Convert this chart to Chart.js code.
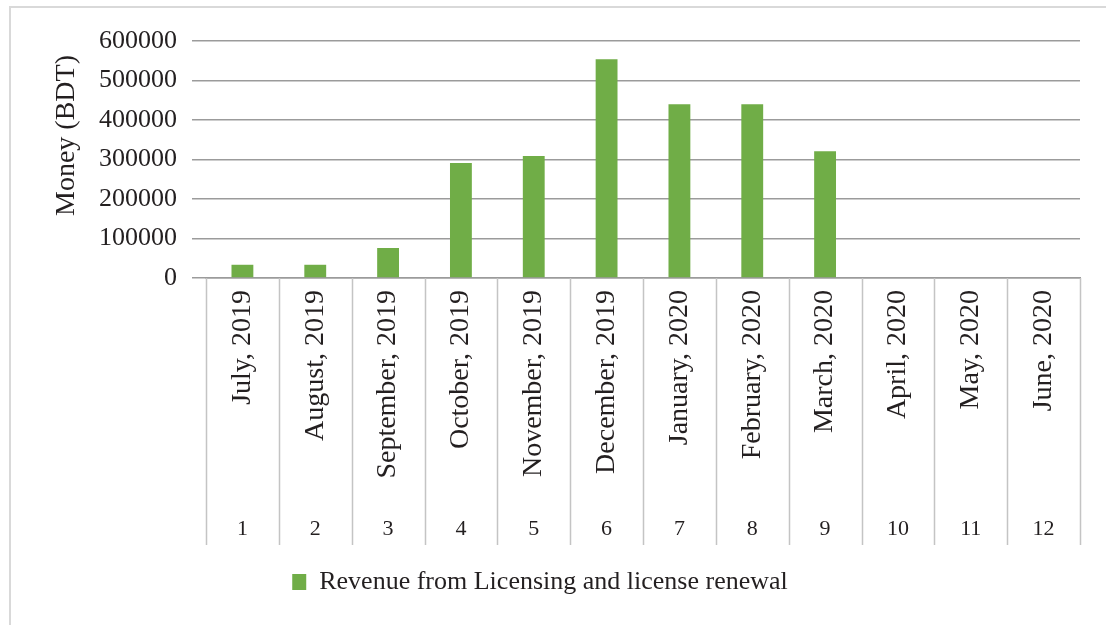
<!DOCTYPE html>
<html lang="en">
<head>
    <meta charset="UTF-8">
    <title>Revenue from Licensing and license renewal</title>
    <script src="https://cdn.jsdelivr.net/npm/chart.js"></script>
    <style>
        body { margin: 0; background: #fff; }
        #wrap { position: relative; width: 1106px; height: 625px; }
        #frame { position: absolute; left: 9px; top: 6px; right: 0; bottom: 0;
                 border-top: 2px solid #d9d9d9; border-left: 2px solid #d9d9d9; pointer-events: none; }
    </style>
</head>
<body>
    <div id="wrap">
        <canvas id="revChart" width="1106" height="625"></canvas>
        <div id="frame"></div>
    </div>

    <script>
        const months = ['July, 2019', 'August, 2019', 'September, 2019', 'October, 2019',
            'November, 2019', 'December, 2019', 'January, 2020', 'February, 2020',
            'March, 2020', 'April, 2020', 'May, 2020', 'June, 2020'];
        const monthNumbers = ['1', '2', '3', '4', '5', '6', '7', '8', '9', '10', '11', '12'];
        const revenue = [33500, 33500, 76000, 291000, 309000, 554000, 440000, 440000, 321000, 0, 0, 0];

        const serif = '"Liberation Serif", "Times New Roman", serif';
        const textColor = '#231f20';

        // vertical lines between the categories, below the axis
        const separators = {
            id: 'separators',
            afterDraw(chart) {
                const x = chart.scales.x;
                const x2 = chart.scales.x2;
                const step = x.getPixelForValue(1) - x.getPixelForValue(0);
                const ctx = chart.ctx;
                ctx.save();
                ctx.strokeStyle = '#c4c4c4';
                ctx.lineWidth = 1.5;
                for (let i = 0; i <= months.length; i++) {
                    const px = Math.round(x.getPixelForValue(0) - step / 2 + i * step) + 0.5;
                    ctx.beginPath();
                    ctx.moveTo(px, chart.chartArea.bottom);
                    ctx.lineTo(px, x2.bottom);
                    ctx.stroke();
                }
                ctx.restore();
            }
        };

        new Chart(document.getElementById('revChart').getContext('2d'), {
            type: 'bar',
            data: {
                labels: months,
                datasets: [{
                    label: 'Revenue from Licensing and license renewal',
                    data: revenue,
                    backgroundColor: '#70ad47',
                    barPercentage: 0.3,
                    categoryPercentage: 1
                }]
            },
            options: {
                responsive: false,
                animation: false,
                layout: { padding: { left: 0, right: 26, top: 41, bottom: 20 } },
                plugins: {
                    tooltip: { enabled: false },
                    legend: {
                        position: 'bottom',
                        labels: {
                            boxWidth: 14, boxHeight: 16, padding: 24,
                            color: textColor,
                            font: { family: serif, size: 26 }
                        }
                    }
                },
                scales: {
                    x: {
                        weight: 0,
                        grid: { display: false, drawTicks: false },
                        border: { display: true, color: '#9b9b9b', width: 1.5 },
                        ticks: {
                            minRotation: 90, maxRotation: 90, padding: 12,
                            color: textColor, font: { family: serif, size: 28 }
                        },
                        afterFit(scale) { scale.height = 230; }
                    },
                    x2: {
                        type: 'category',
                        position: 'bottom',
                        weight: 1,
                        labels: monthNumbers,
                        grid: { display: false, drawTicks: false },
                        border: { display: false },
                        ticks: { padding: 8, color: textColor, font: { family: serif, size: 22 } },
                        afterFit(scale) { scale.height = 37; }
                    },
                    y: {
                        min: 0, max: 600000,
                        ticks: {
                            stepSize: 100000, padding: 15, color: textColor,
                            font: { family: serif, size: 26 },
                            callback: (v) => String(v)
                        },
                        grid: { color: '#9b9b9b', lineWidth: 1.5, tickLength: 14 },
                        border: { display: false },
                        title: {
                            display: true, text: 'Money (BDT)\u00a0\u00a0', align: 'end',
                            color: textColor, font: { family: serif, size: 28 },
                            padding: { top: 50, bottom: 0 }
                        },
                        afterFit(scale) { scale.width = 206; }
                    }
                }
            },
            plugins: [separators]
        });
    </script>
</body>
</html>
